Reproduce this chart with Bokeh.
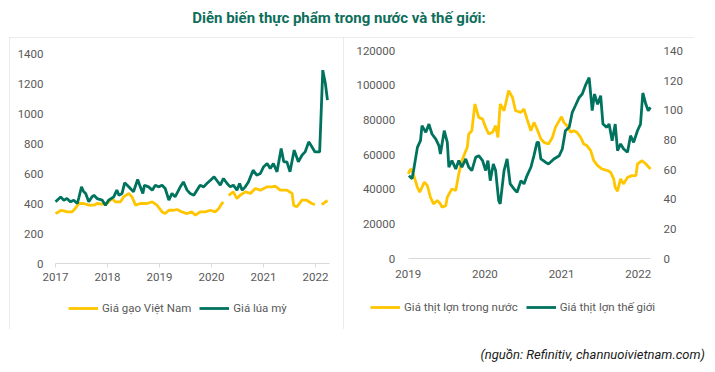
from bokeh.plotting import figure
from bokeh.models import (Range1d, LinearAxis, FixedTicker, Legend, LegendItem,
                          Div, NumeralTickFormatter, Spacer)
from bokeh.layouts import column, row
from bokeh.embed import file_html
from bokeh.resources import INLINE

NAN = float("nan")

# ---------------- Left chart data ----------------
left_years = [2017, 2018, 2019, 2020, 2021, 2022]
left_yticks = [0, 200, 400, 600, 800, 1000, 1200, 1400]

wheat_year = [2017.00, 2017.10, 2017.16, 2017.22, 2017.29, 2017.35, 2017.42, 2017.45, 2017.50, 2017.54,
              2017.58, 2017.64, 2017.70, 2017.74, 2017.80, 2017.90, 2017.96, 2018.02, 2018.12, 2018.18,
              2018.22, 2018.28, 2018.33, 2018.38, 2018.44, 2018.50, 2018.58, 2018.63, 2018.68, 2018.71,
              2018.79, 2018.86, 2018.92, 2018.98, 2019.05, 2019.11, 2019.18, 2019.24, 2019.30, 2019.40,
              2019.46, 2019.53, 2019.59, 2019.66, 2019.72, 2019.78, 2019.85, 2019.91, 2019.98, 2020.05,
              2020.10, 2020.17, 2020.23, 2020.30, 2020.36, 2020.42, 2020.49, 2020.54, 2020.59, 2020.65,
              2020.71, 2020.80, 2020.87, 2020.94, 2021.00, 2021.07, 2021.13, 2021.19, 2021.26, 2021.34,
              2021.39, 2021.45, 2021.51, 2021.59, 2021.67, 2021.74, 2021.80, 2021.87, 2021.93, 2021.99,
              2022.08, 2022.14, 2022.19, 2022.23]
wheat_value = [411, 444, 422, 433, 411, 422, 400, 440, 511, 480,
               467, 411, 444, 455, 433, 422, 389, 422, 444, 489,
               455, 467, 538, 522, 500, 478, 560, 511, 467, 522,
               511, 489, 522, 511, 522, 500, 422, 467, 444, 511,
               544, 489, 467, 455, 489, 522, 511, 533, 555, 578,
               555, 522, 567, 533, 511, 522, 489, 533, 489, 511,
               544, 622, 589, 600, 644, 667, 633, 667, 611, 767,
               678, 678, 611, 756, 678, 722, 744, 811, 778, 744,
               744, 1289, 1200, 1089]

rice_year = [2017.00, 2017.06, 2017.10, 2017.16, 2017.22, 2017.32, 2017.38, 2017.45, 2017.54, 2017.64,
             2017.74, 2017.80, 2017.90, 2017.99, 2018.09, 2018.15, 2018.25, 2018.31, 2018.41, 2018.47,
             2018.54, 2018.63, 2018.76, 2018.86, 2018.95, 2019.05, 2019.11, 2019.18, 2019.27, 2019.34,
             2019.43, 2019.53, 2019.62, 2019.69, 2019.78, 2019.88, 2019.98, 2020.07, 2020.14, 2020.20,
             2020.23, 2020.28, 2020.33, 2020.42, 2020.49, 2020.55, 2020.65, 2020.75, 2020.84, 2020.94,
             2021.07, 2021.16, 2021.23, 2021.32, 2021.45, 2021.55, 2021.58, 2021.64, 2021.74, 2021.83,
             2021.93, 2021.99, 2022.05, 2022.12, 2022.23]
rice_value = [333, 344, 355, 351, 344, 344, 367, 400, 400, 389,
              389, 400, 396, 400, 433, 411, 411, 444, 467, 444,
              389, 400, 400, 411, 389, 344, 333, 355, 355, 360,
              344, 333, 344, 322, 344, 344, 355, 344, 367, 400,
              409, NAN, 455, 478, 433, 455, 478, 467, 500, 489,
              511, 511, 515, 489, 489, 467, 389, 378, 422, 422,
              400, 393, NAN, 393, 420]

# ---------------- Right chart data ----------------
right_years = [2019, 2020, 2021, 2022]
right_left_ticks = [0, 20000, 40000, 60000, 80000, 100000, 120000]
right_right_ticks = [0, 20, 40, 60, 80, 100, 120, 140]

vn_pork_year = [2019.00, 2019.03, 2019.05, 2019.08, 2019.12, 2019.15, 2019.18, 2019.21, 2019.25, 2019.29,
                2019.33, 2019.38, 2019.42, 2019.44, 2019.49, 2019.51, 2019.57, 2019.62, 2019.66, 2019.70,
                2019.77, 2019.79, 2019.83, 2019.87, 2019.92, 2019.97, 2020.01, 2020.05, 2020.10, 2020.14,
                2020.17, 2020.20, 2020.25, 2020.28, 2020.31, 2020.36, 2020.40, 2020.47, 2020.51, 2020.55,
                2020.60, 2020.64, 2020.68, 2020.73, 2020.77, 2020.83, 2020.88, 2020.92, 2020.97, 2021.00,
                2021.03, 2021.07, 2021.12, 2021.16, 2021.20, 2021.25, 2021.29, 2021.33, 2021.38, 2021.42,
                2021.47, 2021.53, 2021.60, 2021.64, 2021.68, 2021.70, 2021.73, 2021.77, 2021.81, 2021.86,
                2021.92, 2021.97, 2021.99, 2022.05, 2022.10, 2022.16]
vn_pork_value = [49000, 51800, 50900, 47000, 41300, 38400, 41300, 44200, 42200, 35500,
                 31700, 33600, 31700, 29800, 30700, 35500, 40300, 39400, 49000, 56600,
                 64300, 72000, 73900, 89300, 81600, 80600, 75800, 72000, 73000, 76800,
                 70000, 89300, 85400, 91200, 97000, 93100, 85400, 84500, 86400, 80600,
                 73900, 78700, 74900, 69100, 67200, 66200, 70000, 75800, 79700, 82000,
                 78700, 76800, 73000, 73900, 73000, 70000, 66200, 65300, 62400, 56600,
                 53800, 51800, 50900, 49900, 46100, 41300, 39000, 46100, 43200, 47000,
                 48000, 48000, 54700, 56600, 54700, 51800]

world_pork_year = [2019.01, 2019.05, 2019.07, 2019.12, 2019.16, 2019.18, 2019.23, 2019.27, 2019.31, 2019.36,
                   2019.40, 2019.42, 2019.47, 2019.51, 2019.53, 2019.57, 2019.62, 2019.66, 2019.70, 2019.75,
                   2019.79, 2019.83, 2019.88, 2019.92, 2019.97, 2020.01, 2020.04, 2020.07, 2020.11, 2020.14,
                   2020.18, 2020.20, 2020.25, 2020.29, 2020.33, 2020.38, 2020.42, 2020.47, 2020.51, 2020.55,
                   2020.60, 2020.64, 2020.68, 2020.70, 2020.73, 2020.79, 2020.83, 2020.90, 2020.97, 2021.01,
                   2021.05, 2021.10, 2021.14, 2021.18, 2021.23, 2021.27, 2021.31, 2021.36, 2021.40, 2021.43,
                   2021.47, 2021.51, 2021.54, 2021.59, 2021.62, 2021.66, 2021.70, 2021.73, 2021.77, 2021.81,
                   2021.86, 2021.90, 2021.94, 2021.99, 2022.03, 2022.06, 2022.10, 2022.13, 2022.16]
world_pork_value = [56.0, 53.8, 59.4, 75.0, 79.5, 89.6, 85.1, 90.7, 84.0, 80.6,
                    76.2, 70.6, 86.2, 78.4, 61.6, 66.1, 60.5, 66.1, 61.6, 67.2,
                    61.6, 59.4, 68.3, 69.4, 66.1, 59.4, 66.1, 52.6, 63.8, 59.4,
                    39.2, 37.0, 59.4, 67.2, 50.4, 47.0, 44.8, 52.6, 50.4, 56.0,
                    61.6, 69.4, 78.4, 78.4, 67.2, 65.0, 63.8, 67.2, 69.4, 73.9,
                    86.2, 88.5, 98.6, 103.0, 108.6, 110.9, 116.5, 122.0, 99.7, 110.9,
                    104.0, 109.8, 90.7, 88.5, 90.7, 79.5, 90.7, 72.8, 77.3, 73.9,
                    71.7, 82.9, 78.4, 86.2, 90.7, 111.6, 104.0, 99.7, 101.9]

TITLE = "Diễn biến thực phẩm trong nước và thế giới:"
SOURCE = "(nguồn: Refinitiv, channuoivietnam.com)"

YELLOW = "#FFC600"
GREEN = "#00735F"
TEXT = "#595959"
AXIS = "#D9D9D9"
FONT = "Roboto"
FS = "11.5px"
LW = 2.8
PANEL = {"outline": "1px solid #D9D9D9", "outline-offset": "-1px"}


def style_axes(p):
    for ax in p.axis:
        ax.major_label_text_font = FONT
        ax.major_label_text_font_size = FS
        ax.major_label_text_color = TEXT
        ax.minor_tick_line_color = None
    p.grid.visible = False
    p.outline_line_color = None


def make_legend(items, loc):
    return Legend(items=items, orientation="horizontal", location=loc,
                  margin=0, padding=0, glyph_width=30, glyph_height=20,
                  label_standoff=4, spacing=8, border_line_color=None,
                  background_fill_alpha=0, label_text_font=FONT,
                  label_text_font_size=FS, label_text_color=TEXT)


def frame_only(**kw):
    return figure(output_backend="svg", toolbar_location=None,
                  min_border_left=0, min_border_right=0, min_border_top=0, min_border_bottom=0,
                  styles=PANEL, **kw)


# ---------------- Left figure (frame fills the panel; axes pinned at data origin) ----------------
p1 = frame_only(width=334, height=292,
                x_range=Range1d(2016.1154, 2022.5385), y_range=Range1d(-440, 1506.7))
r_rice = p1.line(rice_year, rice_value, line_color=YELLOW, line_width=LW)
r_wheat = p1.line(wheat_year, wheat_value, line_color=GREEN, line_width=LW)
style_axes(p1)
p1.xaxis.fixed_location = 0
p1.xaxis.bounds = (2017, 2022.27)
p1.xaxis.ticker = FixedTicker(ticks=left_years)
p1.xaxis.axis_line_color = AXIS
p1.xaxis.major_tick_line_color = AXIS
p1.xaxis.major_tick_out = 4
p1.xaxis.major_tick_in = 0
p1.xaxis.major_label_standoff = 5
p1.yaxis.fixed_location = 2017
p1.yaxis.bounds = (0, 1400)
p1.yaxis.ticker = FixedTicker(ticks=left_yticks)
p1.yaxis.axis_line_color = None
p1.yaxis.major_tick_line_color = None
p1.yaxis.major_tick_out = 0
p1.yaxis.major_label_standoff = 12
p1.add_layout(make_legend([LegendItem(label="Giá gạo Việt Nam", renderers=[r_rice]),
                           LegendItem(label="Giá lúa mỳ", renderers=[r_wheat])], (59, 11)), "center")

# ---------------- Right figure ----------------
p2 = frame_only(width=351, height=292,
                x_range=Range1d(2018.156, 2022.734), y_range=Range1d(-40788, 127673))
p2.extra_y_ranges = {"y2": Range1d(-47.59, 148.95)}
p2.add_layout(LinearAxis(y_range_name="y2"), "right")
r_vn = p2.line(vn_pork_year, vn_pork_value, line_color=YELLOW, line_width=LW)
r_world = p2.line(world_pork_year, world_pork_value, line_color=GREEN, line_width=LW,
                  y_range_name="y2")
style_axes(p2)
p2.xaxis.fixed_location = 0
p2.xaxis.bounds = (2019, 2022.16)
p2.xaxis.ticker = FixedTicker(ticks=right_years)
p2.xaxis.axis_line_color = AXIS
p2.xaxis.major_tick_line_color = None
p2.xaxis.major_tick_out = 0
p2.xaxis.major_tick_in = 0
p2.xaxis.major_label_standoff = 11
p2.yaxis[0].fixed_location = 2019
p2.yaxis[0].ticker = FixedTicker(ticks=right_left_ticks)
p2.yaxis[0].formatter = NumeralTickFormatter(format="0")
p2.yaxis[1].fixed_location = 2022.16
p2.yaxis[1].ticker = FixedTicker(ticks=right_right_ticks)
for ax in p2.yaxis:
    ax.axis_line_color = None
    ax.major_tick_line_color = None
    ax.major_tick_out = 0
    ax.major_tick_in = 0
    ax.major_label_standoff = 13
p2.add_layout(make_legend([LegendItem(label="Giá thịt lợn trong nước", renderers=[r_vn]),
                           LegendItem(label="Giá thịt lợn thế giới", renderers=[r_world])], (27, 12)), "center")

# ---------------- Title & source ----------------
title = Div(text=f'<div style="width:678px;text-align:center;font-family:Roboto;font-weight:bold;'
                 f'font-size:15px;line-height:20px;padding-top:8px;color:#0E6E5B;white-space:nowrap;">{TITLE}</div>',
            width=715, height=37, margin=0)
source = Div(text=f'<div style="width:705px;text-align:right;font-family:Roboto;font-style:italic;'
                  f'font-size:13px;line-height:14px;padding-top:19px;color:#1A1A1A;white-space:nowrap;">{SOURCE}</div>',
             width=715, height=35, margin=0)

layout = column(title, row(Spacer(width=9, height=292), p1, p2, spacing=0), source, spacing=0)

with open("out.html", "w") as f:
    f.write(file_html(layout, INLINE))
